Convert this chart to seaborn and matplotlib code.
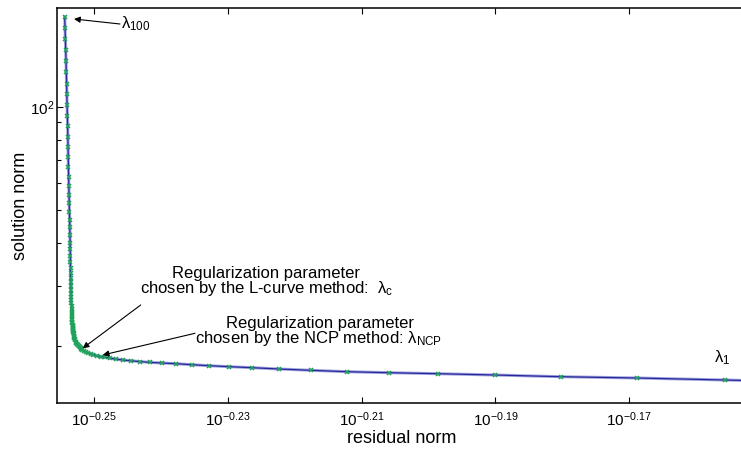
import matplotlib
matplotlib.use('Agg')
import matplotlib.pyplot as plt
import matplotlib.ticker as mticker
import seaborn as sns
import numpy as np
import pandas as pd

# log10(residual norm), log10(solution norm) for lambda_1 ... lambda_100
res_exp = [
    -0.15570, -0.16886, -0.18023, -0.19010, -0.19863, -0.20591, -0.21220, -0.21763, -0.22232, -0.22636,
    -0.22980, -0.23284, -0.23543, -0.23778, -0.23983, -0.24161, -0.24316, -0.24451, -0.24568, -0.24669,
    -0.24758, -0.24835, -0.24903, -0.24961, -0.25012, -0.25055, -0.25094, -0.25127, -0.25156, -0.25181,
    -0.25193, -0.25206, -0.25220, -0.25233, -0.25247, -0.25259, -0.25269, -0.25278, -0.25286, -0.25292,
    -0.25297, -0.25301, -0.25305, -0.25308, -0.25311, -0.25313, -0.25316, -0.25317, -0.25319, -0.25322,
    -0.25323, -0.25325, -0.25326, -0.25328, -0.25329, -0.25331, -0.25332, -0.25334, -0.25335, -0.25337,
    -0.25338, -0.25340, -0.25341, -0.25343, -0.25344, -0.25346, -0.25347, -0.25349, -0.25350, -0.25352,
    -0.25353, -0.25355, -0.25356, -0.25358, -0.25359, -0.25361, -0.25362, -0.25364, -0.25366, -0.25368,
    -0.25373, -0.25375, -0.25378, -0.25381, -0.25384, -0.25387, -0.25390, -0.25393, -0.25396, -0.25399,
    -0.25403, -0.25407, -0.25411, -0.25414, -0.25419, -0.25423, -0.25428, -0.25433, -0.25438, -0.25443,
]
sol_exp = [
    1.20088, 1.20673, 1.21053, 1.21550, 1.21930, 1.22222, 1.22515, 1.22924, 1.23304, 1.23684,
    1.23977, 1.24269, 1.24561, 1.24854, 1.25058, 1.25234, 1.25468, 1.25702, 1.25936, 1.26170,
    1.26433, 1.26696, 1.26959, 1.27222, 1.27485, 1.27749, 1.28012, 1.28275, 1.28538, 1.28830,
    1.29094, 1.29386, 1.29678, 1.30029, 1.30322, 1.30643, 1.30965, 1.31316, 1.31667, 1.32018,
    1.32368, 1.32719, 1.33070, 1.33421, 1.33772, 1.34094, 1.34415, 1.34737, 1.35029, 1.35322,
    1.35614, 1.35936, 1.36287, 1.36667, 1.37076, 1.37515, 1.37982, 1.38509, 1.39064, 1.39649,
    1.40292, 1.40965, 1.41725, 1.42515, 1.43363, 1.44269, 1.45263, 1.46316, 1.47456, 1.48684,
    1.50000, 1.51433, 1.52953, 1.54591, 1.56345, 1.58246, 1.60292, 1.62485, 1.64737, 1.66959,
    1.69298, 1.71754, 1.74269, 1.76901, 1.79532, 1.82368, 1.85205, 1.88129, 1.91140, 1.94357,
    1.97281, 2.00497, 2.03626, 2.06725, 2.10058, 2.13363, 2.16667, 2.19883, 2.23099, 2.26316,
]
# the curve itself runs on a bit past lambda_1, off the right edge
tail_res_exp = [-0.15100]
tail_sol_exp = [1.19868]

xtick_exp = [-0.25, -0.23, -0.21, -0.19, -0.17]
xtick_labels = [r'$10^{-0.25}$', r'$10^{-0.23}$', r'$10^{-0.21}$', r'$10^{-0.19}$', r'$10^{-0.17}$']

df = pd.DataFrame({'residual': 10 ** np.array(res_exp), 'solution': 10 ** np.array(sol_exp)})
tail = pd.DataFrame({'residual': 10 ** np.array(tail_res_exp), 'solution': 10 ** np.array(tail_sol_exp)})
line_df = pd.concat([tail, df], ignore_index=True)

sns.set_style('ticks')
plt.rcParams['font.family'] = ['Liberation Sans', 'DejaVu Sans']
plt.rcParams['mathtext.fontset'] = 'custom'
plt.rcParams['mathtext.rm'] = 'Liberation Sans'
plt.rcParams['mathtext.it'] = 'Liberation Sans'
plt.rcParams['mathtext.default'] = 'regular'
plt.rcParams['text.color'] = 'black'
plt.rcParams['axes.labelcolor'] = 'black'

W, H = 741, 449
fig = plt.figure(figsize=(W / 100, H / 100), dpi=100)
ax = fig.add_axes([57 / W, 46 / H, 685 / W, 394.7 / H])

def px(x, y):
    return (x / W, 1 - y / H)

# blue curve (light halo + dark core), green x markers
sns.lineplot(data=line_df, x='residual', y='solution', sort=False, estimator=None,
             color='#a3a6dd', lw=2.2, ax=ax)
sns.lineplot(data=line_df, x='residual', y='solution', sort=False, estimator=None,
             color='#27279c', lw=0.9, ax=ax)
sns.lineplot(data=df, x='residual', y='solution', sort=False, estimator=None,
             linestyle='', marker='x', markersize=3.4, markeredgewidth=1.1,
             color='#1fa35a', markeredgecolor='#1fa35a', ax=ax)

ax.set_xscale('log')
ax.set_yscale('log')
ax.set_xlim(10 ** -0.25558, 10 ** -0.15311)
ax.set_ylim(10 ** 1.13363, 10 ** 2.28772)

ax.xaxis.set_major_locator(mticker.FixedLocator(10 ** np.array(xtick_exp)))
ax.xaxis.set_major_formatter(mticker.FixedFormatter(xtick_labels))
ax.xaxis.set_minor_locator(mticker.NullLocator())
ax.yaxis.set_minor_formatter(mticker.NullFormatter())

for s in ['left', 'bottom', 'top']:
    ax.spines[s].set_linewidth(1.1)
    ax.spines[s].set_color('black')
ax.spines['right'].set_visible(False)
ax.tick_params(which='both', direction='in', top=True, right=False, colors='black',
               width=0.8, labelsize=11)
ax.tick_params(which='major', length=4.5)
ax.tick_params(which='minor', length=2.7)
ax.tick_params(axis='x', pad=5.5)
ax.tick_params(axis='y', pad=1.5)

ax.set_xlabel('residual norm', fontsize=13, va='top')
ax.xaxis.set_label_coords(0.5036, -0.0684)
ax.set_ylabel('solution norm', fontsize=13)
ax.yaxis.set_label_coords(-28 / 685, 0.5)

arrow = dict(arrowstyle='-|>', color='black', lw=0.8, mutation_scale=9, shrinkA=0, shrinkB=0)
ax.annotate('', xy=px(74, 19), xycoords='figure fraction',
            xytext=px(120, 24), textcoords='figure fraction', arrowprops=arrow)
ax.annotate('', xy=px(82.7, 348.3), xycoords='figure fraction',
            xytext=px(140.7, 305), textcoords='figure fraction', arrowprops=arrow)
ax.annotate('', xy=px(102.7, 355), xycoords='figure fraction',
            xytext=px(195, 333.3), textcoords='figure fraction', arrowprops=arrow)

fig.text(*px(121, 28), 'λ$_{100}$', fontsize=12, ha='left', va='baseline')
fig.text(*px(714, 362), 'λ$_1$', fontsize=12, ha='left', va='baseline')

fig.text(*px(265.5, 278), 'Regularization parameter', fontsize=12, ha='center', va='baseline')
fig.text(*px(267, 293.5), 'chosen by the L-curve method:  λ$_c$', fontsize=12, ha='center', va='baseline')
fig.text(*px(320.3, 328), 'Regularization parameter', fontsize=12, ha='center', va='baseline')
fig.text(*px(319, 343.5), 'chosen by the NCP method: λ$_{NCP}$', fontsize=12, ha='center', va='baseline')

fig.savefig('out.png', dpi=100)
